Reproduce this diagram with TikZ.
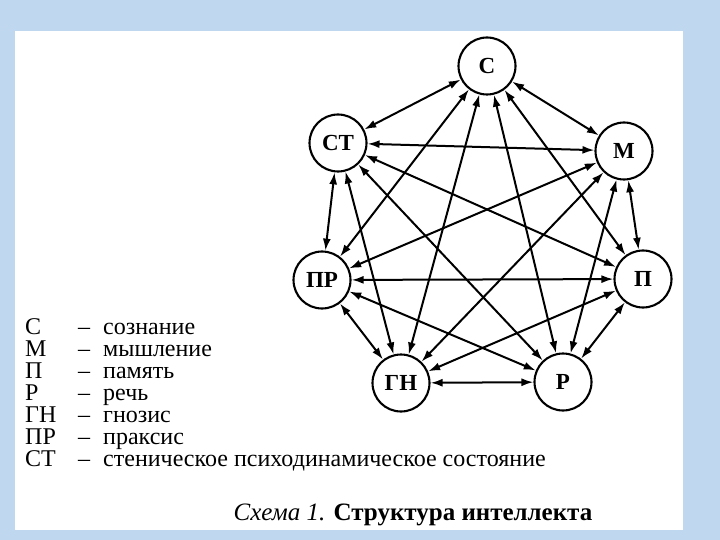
\documentclass[tikz,border=0pt]{standalone}
\usepackage{fontspec}
\setmainfont{Liberation Serif}
\usetikzlibrary{arrows.meta}
\definecolor{slideblue}{RGB}{192,215,240}

\begin{document}
\begin{tikzpicture}[x=1pt,y=-1pt,
  vert/.style={draw,circle,line width=2.1pt,minimum size=57pt,inner sep=0pt,fill=white,font=\fontsize{23}{24}\selectfont\bfseries},
  link/.style={line width=2pt,{Latex[length=12pt,width=8pt]}-{Latex[length=12pt,width=8pt]}},
  leg/.style={anchor=base west,inner sep=0pt,text height=15pt,text depth=4.5pt,font=\fontsize{24}{22}\selectfont}]
\useasboundingbox (0,0) rectangle (720,540);
% slide background and the white sheet
\fill[slideblue] (0,0) rectangle (720,540);
\fill[white] (15,31) rectangle (683,530);
% the seven nodes
\node[vert] (c) at (487,66) {С};
\node[vert] (st) at (338,143) {СТ};
\node[vert] (m) at (624,151) {М};
\node[vert] (pr) at (322,280) {ПР};
\node[vert] (p) at (643,279) {П};
\node[vert] (gn) at (401,383) {ГН};
\node[vert] (r) at (563,382) {Р};
% every pair is linked both ways
\foreach \a/\b in {c/st,c/m,c/pr,c/p,c/gn,c/r,st/m,st/pr,st/p,st/gn,st/r,
  m/pr,m/p,m/gn,m/r,pr/p,pr/gn,pr/r,p/gn,p/r,gn/r}
  \draw[link] (\a) -- (\b);
% legend
\foreach \k/\w [count=\i] in {С/сознание,М/мышление,П/память,Р/речь,ГН/гнозис,ПР/праксис,СТ/стеническое психодинамическое состояние}{
  \node[leg] (ab\i) at (25,334+22*\i-22) {\k};
  \node[leg] (ds\i) at (78,334+22*\i-22) {–};
  \node[leg] (tx\i) at (103,334+22*\i-22) {\w};
}
\node[anchor=base,inner sep=0pt,font=\fontsize{25}{26}\selectfont] (cap) at (413,520) {\textit{Схема 1.} \textbf{Структура интеллекта}};
\end{tikzpicture}
\end{document}
